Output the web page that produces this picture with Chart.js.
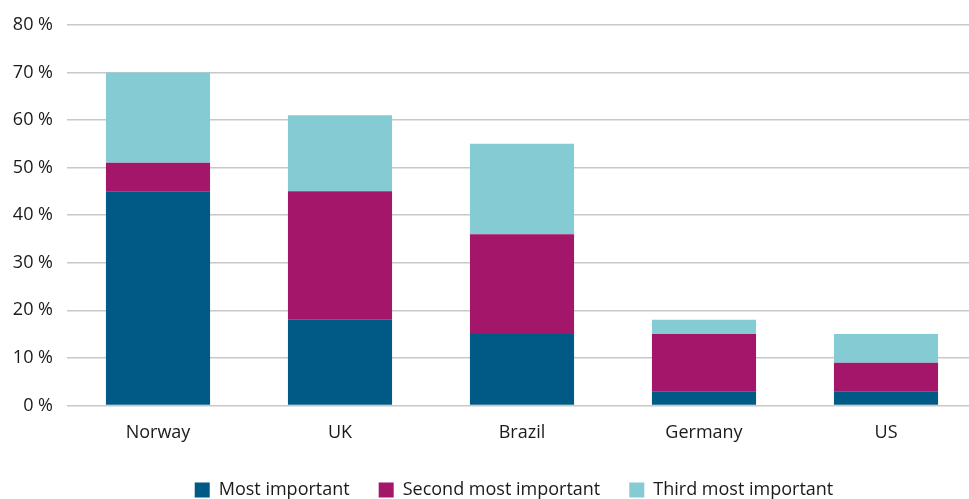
<!DOCTYPE html>
<html>
<head>
<meta charset="utf-8">
<script src="https://cdn.jsdelivr.net/npm/chart.js@4.4.1/dist/chart.umd.min.js"></script>
<style>
  html, body { margin: 0; padding: 0; background: #fff; overflow: hidden; }
  #wrap { width: 977px; height: 511px; }
</style>
</head>
<body>
<div id="wrap"><canvas id="chart"></canvas></div>
<script>
const countries = ['Norway', 'UK', 'Brazil', 'Germany', 'US'];
const mostImportant = [45, 18, 15, 3, 3];
const secondMostImportant = [6, 27, 21, 12, 6];
const thirdMostImportant = [19, 16, 19, 3, 6];
const yTicks = [0, 10, 20, 30, 40, 50, 60, 70, 80];

const FONT = '"Open Sans", "Noto Sans", sans-serif';
const SIZE = 18;

// Center the legend under the plot area rather than the whole canvas.
const legendUnderPlot = {
  id: 'legendUnderPlot',
  afterLayout(chart) {
    const lg = chart.legend;
    if (!lg) return;
    const plotMid = (chart.chartArea.left + chart.chartArea.right) / 2;
    const boxMid = (lg.left + lg.right) / 2;
    const dx = plotMid - boxMid - 8;
    lg.left += dx;
    lg.right += dx;
  }
};

new Chart(document.getElementById('chart'), {
  type: 'bar',
  data: {
    labels: countries,
    datasets: [
      { label: 'Most important', data: mostImportant, backgroundColor: '#005a85' },
      { label: 'Second most important', data: secondMostImportant, backgroundColor: '#a3166a' },
      { label: 'Third most important', data: thirdMostImportant, backgroundColor: '#84cbd4' }
    ]
  },
  plugins: [legendUnderPlot],
  options: {
    responsive: true,
    maintainAspectRatio: false,
    animation: false,
    layout: { padding: { top: 24, left: 0, right: 0, bottom: 2 } },
    datasets: { bar: { categoryPercentage: 1, barPercentage: 0.572 } },
    plugins: {
      tooltip: { enabled: false },
      legend: {
        position: 'bottom',
        labels: {
          boxWidth: 15,
          boxHeight: 15,
          padding: 29,
          color: '#1a1a1a',
          font: { family: FONT, size: SIZE }
        }
      }
    },
    scales: {
      x: {
        stacked: true,
        grid: { display: false, drawTicks: false },
        border: { display: false },
        ticks: { color: '#1a1a1a', padding: 17, font: { family: FONT, size: SIZE } },
        afterFit: (s) => { s.height = 46.5; }
      },
      y: {
        stacked: true,
        min: yTicks[0],
        max: yTicks[yTicks.length - 1],
        afterBuildTicks: (s) => { s.ticks = yTicks.map(v => ({ value: v })); },
        grid: { color: '#c8c8c8', lineWidth: 1.5, drawTicks: false },
        border: { display: false },
        ticks: {
          color: '#1a1a1a',
          padding: 14,
          font: { family: FONT, size: SIZE },
          callback: (v) => v + ' %'
        },
        afterFit: (s) => { s.width = 67; }
      }
    }
  }
});
</script>
</body>
</html>
